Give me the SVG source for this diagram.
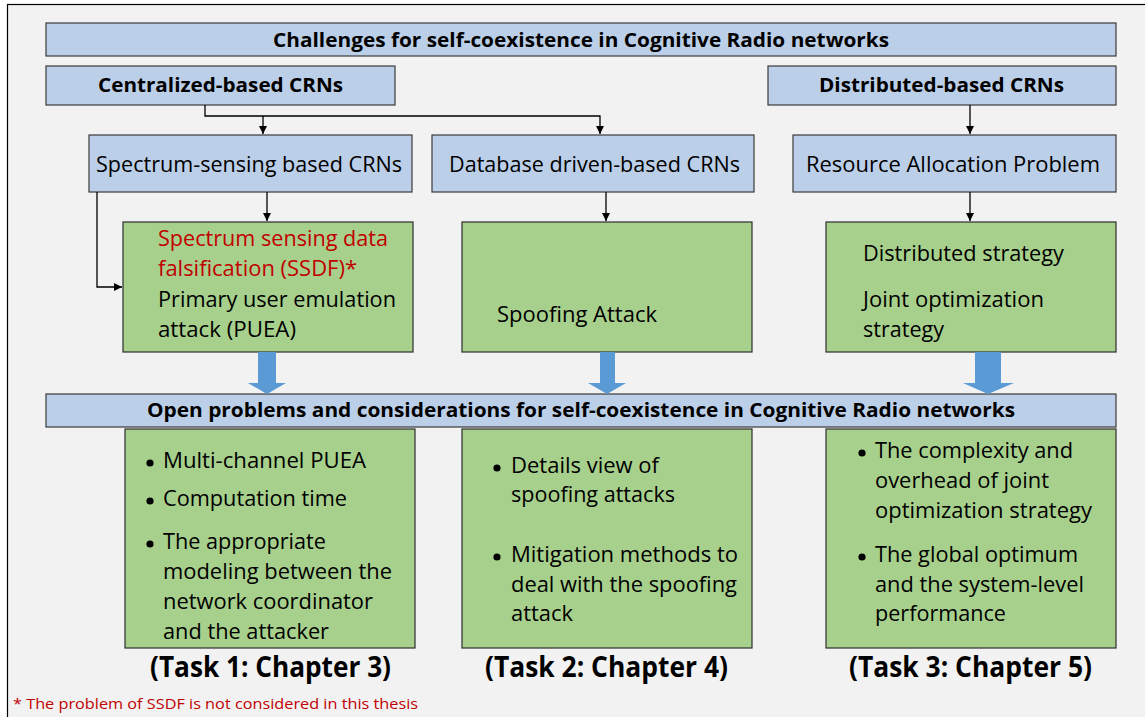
<svg xmlns="http://www.w3.org/2000/svg" width="1145" height="717" viewBox="0 0 1145 717">
<style>
.blue{fill:#bccfe8;stroke:#3a3a3a;stroke-width:1.2}
.green{fill:#a8d08d;stroke:#2e2e2e;stroke-width:1.2}
.hb{font-family:"Open Sans","Liberation Sans",sans-serif;font-weight:bold;font-size:20px;fill:#000}
.t{font-family:"Open Sans","Liberation Sans",sans-serif;font-size:21px;fill:#000}
.red{fill:#c00000}
.task{font-family:"Open Sans","Liberation Sans",sans-serif;font-weight:bold;font-size:28px;fill:#000}
.foot{font-family:"Open Sans","Liberation Sans",sans-serif;font-size:15px;fill:#c00000}
.ln{fill:none;stroke:#000;stroke-width:1.3}
.blk{fill:#5b9bd5}
.dot{fill:#000}
</style>
<defs>
<marker id="ah" viewBox="0 0 10 10" refX="10" refY="5" markerWidth="8" markerHeight="8" markerUnits="userSpaceOnUse" orient="auto">
<path d="M0,0 L10,5 L0,10 z" fill="#000"/>
</marker>
</defs>
<rect x="7.5" y="4.5" width="1150" height="720" fill="#f2f2f2" stroke="#000" stroke-width="1.2"/>

<g id="title"><rect class="blue" x="46" y="23" width="1070" height="33"/><text class="hb" x="273" y="47" textLength="616" lengthAdjust="spacingAndGlyphs">Challenges for self-coexistence in Cognitive Radio networks</text></g>
<g id="centralized"><rect class="blue" x="46" y="66" width="349" height="39"/><text class="hb" x="98" y="92" textLength="245" lengthAdjust="spacingAndGlyphs">Centralized-based CRNs</text></g>
<g id="distributed"><rect class="blue" x="768" y="66" width="348" height="39"/><text class="hb" x="819" y="92" textLength="245" lengthAdjust="spacingAndGlyphs">Distributed-based CRNs</text></g>

<g id="spectrum"><rect class="blue" x="89" y="135" width="323" height="57"/><text class="t" x="96" y="172" textLength="306" lengthAdjust="spacingAndGlyphs">Spectrum-sensing based CRNs</text></g>
<g id="database"><rect class="blue" x="432" y="135" width="322" height="57"/><text class="t" x="449" y="172" textLength="291" lengthAdjust="spacingAndGlyphs">Database driven-based CRNs</text></g>
<g id="resource"><rect class="blue" x="793" y="135" width="323" height="57"/><text class="t" x="806" y="172" textLength="294" lengthAdjust="spacingAndGlyphs">Resource Allocation Problem</text></g>

<g id="attacks1"><rect class="green" x="123" y="222" width="290" height="130"/>
<text class="t red" x="158" y="246" textLength="230" lengthAdjust="spacingAndGlyphs">Spectrum sensing data</text>
<text class="t red" x="158" y="276" textLength="199" lengthAdjust="spacingAndGlyphs">falsification (SSDF)*</text>
<text class="t" x="158" y="307" textLength="238" lengthAdjust="spacingAndGlyphs">Primary user emulation</text>
<text class="t" x="158" y="337" textLength="138" lengthAdjust="spacingAndGlyphs">attack (PUEA)</text></g>
<g id="attacks2"><rect class="green" x="462" y="222" width="290" height="130"/>
<text class="t" x="497" y="322" textLength="160" lengthAdjust="spacingAndGlyphs">Spoofing Attack</text></g>
<g id="strategies"><rect class="green" x="826" y="222" width="290" height="130"/>
<text class="t" x="863" y="261" textLength="201" lengthAdjust="spacingAndGlyphs">Distributed strategy</text>
<text class="t" x="863" y="307" textLength="181" lengthAdjust="spacingAndGlyphs">Joint optimization</text>
<text class="t" x="863" y="337" textLength="81" lengthAdjust="spacingAndGlyphs">strategy</text></g>

<g id="open"><rect class="blue" x="46" y="394" width="1070" height="33"/><text class="hb" x="147" y="417" textLength="868" lengthAdjust="spacingAndGlyphs">Open problems and considerations for self-coexistence in Cognitive Radio networks</text></g>

<g id="task1"><rect class="green" x="125" y="429" width="290" height="219"/>
<circle class="dot" cx="150" cy="463" r="3.6"/><text class="t" x="163" y="468" textLength="203" lengthAdjust="spacingAndGlyphs">Multi-channel PUEA</text>
<circle class="dot" cx="150" cy="501" r="3.6"/><text class="t" x="163" y="506" textLength="184" lengthAdjust="spacingAndGlyphs">Computation time</text>
<circle class="dot" cx="150" cy="544" r="3.6"/><text class="t" x="163" y="549" textLength="163" lengthAdjust="spacingAndGlyphs">The appropriate</text>
<text class="t" x="163" y="579" textLength="229" lengthAdjust="spacingAndGlyphs">modeling between the</text>
<text class="t" x="163" y="609" textLength="210" lengthAdjust="spacingAndGlyphs">network coordinator</text>
<text class="t" x="163" y="639" textLength="166" lengthAdjust="spacingAndGlyphs">and the attacker</text>
<text class="task" x="150" y="677" textLength="241" lengthAdjust="spacingAndGlyphs">(Task 1: Chapter 3)</text></g>

<g id="task2"><rect class="green" x="462" y="429" width="290" height="219"/>
<circle class="dot" cx="497" cy="468" r="3.6"/><text class="t" x="511" y="473" textLength="148" lengthAdjust="spacingAndGlyphs">Details view of</text>
<text class="t" x="511" y="502" textLength="164" lengthAdjust="spacingAndGlyphs">spoofing attacks</text>
<circle class="dot" cx="497" cy="557" r="3.6"/><text class="t" x="511" y="562" textLength="227" lengthAdjust="spacingAndGlyphs">Mitigation methods to</text>
<text class="t" x="511" y="592" textLength="226" lengthAdjust="spacingAndGlyphs">deal with the spoofing</text>
<text class="t" x="511" y="621" textLength="62" lengthAdjust="spacingAndGlyphs">attack</text>
<text class="task" x="485" y="677" textLength="243" lengthAdjust="spacingAndGlyphs">(Task 2: Chapter 4)</text></g>

<g id="task3"><rect class="green" x="826" y="429" width="290" height="219"/>
<circle class="dot" cx="862" cy="453" r="3.6"/><text class="t" x="875" y="458" textLength="198" lengthAdjust="spacingAndGlyphs">The complexity and</text>
<text class="t" x="875" y="488" textLength="174" lengthAdjust="spacingAndGlyphs">overhead of joint</text>
<text class="t" x="875" y="518" textLength="217" lengthAdjust="spacingAndGlyphs">optimization strategy</text>
<circle class="dot" cx="862" cy="557" r="3.6"/><text class="t" x="875" y="562" textLength="203" lengthAdjust="spacingAndGlyphs">The global optimum</text>
<text class="t" x="875" y="592" textLength="209" lengthAdjust="spacingAndGlyphs">and the system-level</text>
<text class="t" x="875" y="621" textLength="131" lengthAdjust="spacingAndGlyphs">performance</text>
<text class="task" x="849" y="677" textLength="243" lengthAdjust="spacingAndGlyphs">(Task 3: Chapter 5)</text></g>

<g id="connectors">
<polyline class="ln" points="205,105 205,116 600,116 600,134" marker-end="url(#ah)"/>
<line class="ln" x1="263" y1="116" x2="263" y2="134" marker-end="url(#ah)"/>
<line class="ln" x1="970" y1="105" x2="970" y2="134" marker-end="url(#ah)"/>
<line class="ln" x1="267" y1="192" x2="267" y2="221" marker-end="url(#ah)"/>
<polyline class="ln" points="97,192 97,287 122,287" marker-end="url(#ah)"/>
<line class="ln" x1="606" y1="192" x2="606" y2="221" marker-end="url(#ah)"/>
<line class="ln" x1="970" y1="192" x2="970" y2="221" marker-end="url(#ah)"/>
<polygon class="blk" points="258,352 276,352 276,383 286,383 267,394 248,383 258,383"/>
<polygon class="blk" points="600,352 615,352 615,383 626,383 607,394 588,383 600,383"/>
<polygon class="blk" points="975,352 1001,352 1001,383 1014,383 988,394 963,383 975,383"/>
</g>

<text class="foot" x="13" y="709" textLength="405" lengthAdjust="spacingAndGlyphs">* The problem of SSDF is not considered in this thesis</text>
</svg>
